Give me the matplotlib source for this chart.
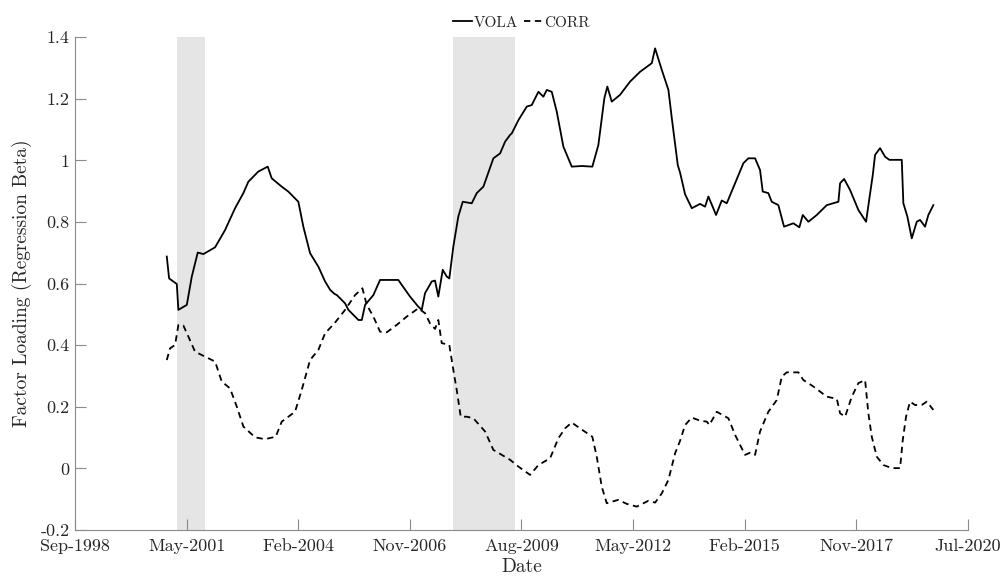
import matplotlib
matplotlib.use("Agg")
import matplotlib.pyplot as plt
import matplotlib.dates as mdates
import numpy as np
import datetime as dt

plt.rcParams['font.family'] = ['cmr10', 'DejaVu Serif']
plt.rcParams['mathtext.fontset'] = 'cm'
plt.rcParams['axes.unicode_minus'] = False

# decimal years, values
vola_t = [2000.909, 2000.966, 2001.154, 2001.193, 2001.399, 2001.521, 2001.667, 2001.804,
          2002.091, 2002.335, 2002.580, 2002.783, 2002.905, 2003.149, 2003.379, 2003.477,
          2003.722, 2003.883, 2004.128, 2004.250, 2004.414, 2004.617, 2004.781, 2004.903,
          2005.008, 2005.067, 2005.270, 2005.350, 2005.595, 2005.678, 2005.759, 2005.962,
          2006.125, 2006.573, 2006.656, 2006.859, 2007.062, 2007.145, 2007.226, 2007.390,
          2007.470, 2007.551, 2007.659, 2007.757, 2007.820, 2007.918, 2008.040, 2008.148,
          2008.368, 2008.490, 2008.652, 2008.896, 2009.060, 2009.182, 2009.304, 2009.346,
          2009.508, 2009.713, 2009.835, 2009.997, 2010.119, 2010.202, 2010.324, 2010.447,
          2010.608, 2010.813, 2011.058, 2011.317, 2011.464, 2011.611, 2011.684, 2011.792,
          2011.994, 2012.239, 2012.484, 2012.770, 2012.850, 2013.014, 2013.176, 2013.259,
          2013.405, 2013.462, 2013.584, 2013.748, 2013.951, 2014.073, 2014.154, 2014.342,
          2014.481, 2014.604, 2014.807, 2015.010, 2015.132, 2015.296, 2015.418, 2015.484,
          2015.621, 2015.704, 2015.866, 2016.005, 2016.233, 2016.379, 2016.462, 2016.599,
          2016.804, 2017.049, 2017.333, 2017.374, 2017.472, 2017.619, 2017.822, 2018.010,
          2018.091, 2018.174, 2018.230, 2018.352, 2018.475, 2018.580, 2018.883, 2018.922,
          2019.020, 2019.128, 2019.250, 2019.331, 2019.453, 2019.534, 2019.656]
vola = [0.688, 0.617, 0.599, 0.515, 0.531, 0.623, 0.701, 0.696,
        0.718, 0.774, 0.845, 0.894, 0.931, 0.964, 0.980, 0.942,
        0.915, 0.899, 0.866, 0.785, 0.699, 0.655, 0.607, 0.580,
        0.567, 0.563, 0.536, 0.515, 0.482, 0.482, 0.531, 0.563,
        0.612, 0.612, 0.596, 0.558, 0.525, 0.515, 0.569, 0.607,
        0.610, 0.558, 0.645, 0.623, 0.617, 0.720, 0.818, 0.866,
        0.861, 0.894, 0.915, 1.007, 1.023, 1.061, 1.083, 1.088,
        1.131, 1.175, 1.180, 1.223, 1.207, 1.229, 1.223, 1.158,
        1.045, 0.980, 0.982, 0.980, 1.050, 1.202, 1.240, 1.191,
        1.213, 1.256, 1.288, 1.316, 1.364, 1.294, 1.229, 1.137,
        0.985, 0.960, 0.890, 0.845, 0.859, 0.850, 0.883, 0.823,
        0.870, 0.861, 0.926, 0.991, 1.007, 1.007, 0.969, 0.899,
        0.894, 0.866, 0.855, 0.785, 0.796, 0.783, 0.823, 0.801,
        0.823, 0.855, 0.866, 0.926, 0.940, 0.904, 0.839, 0.801,
        0.877, 0.953, 1.018, 1.040, 1.012, 1.002, 1.002, 0.861,
        0.818, 0.747, 0.801, 0.807, 0.785, 0.823, 0.855]

corr_t = [2000.909, 2000.990, 2001.112, 2001.193, 2001.315, 2001.438, 2001.601, 2001.846,
          2002.091, 2002.254, 2002.457, 2002.621, 2002.783, 2003.069, 2003.313, 2003.575,
          2003.722, 2004.047, 2004.211, 2004.414, 2004.617, 2004.781, 2005.008, 2005.270,
          2005.514, 2005.693, 2005.800, 2005.962, 2006.125, 2006.289, 2006.534, 2006.778,
          2007.062, 2007.226, 2007.348, 2007.470, 2007.551, 2007.634, 2007.820, 2007.918,
          2008.001, 2008.099, 2008.246, 2008.407, 2008.693, 2008.896, 2009.102, 2009.304,
          2009.508, 2009.794, 2009.997, 2010.283, 2010.486, 2010.649, 2010.813, 2011.016,
          2011.317, 2011.425, 2011.547, 2011.669, 2011.953, 2012.158, 2012.403, 2012.687,
          2012.850, 2013.014, 2013.176, 2013.339, 2013.462, 2013.584, 2013.748, 2013.951,
          2014.115, 2014.178, 2014.359, 2014.643, 2014.807, 2015.051, 2015.173, 2015.296,
          2015.418, 2015.621, 2015.827, 2015.949, 2016.071, 2016.355, 2016.477, 2016.721,
          2017.049, 2017.294, 2017.374, 2017.497, 2017.660, 2017.822, 2017.986, 2018.066,
          2018.149, 2018.272, 2018.434, 2018.639, 2018.842, 2018.908, 2018.988, 2019.086,
          2019.208, 2019.372, 2019.495, 2019.656]
corr = [0.352, 0.390, 0.401, 0.466, 0.464, 0.428, 0.379, 0.363,
        0.347, 0.282, 0.260, 0.201, 0.136, 0.101, 0.095, 0.103,
        0.152, 0.184, 0.255, 0.352, 0.385, 0.439, 0.471, 0.515,
        0.563, 0.585, 0.531, 0.493, 0.444, 0.442, 0.466, 0.493,
        0.520, 0.504, 0.471, 0.453, 0.482, 0.407, 0.401, 0.320,
        0.255, 0.168, 0.168, 0.163, 0.120, 0.060, 0.044, 0.028,
        0.006, -0.021, 0.011, 0.033, 0.098, 0.130, 0.149, 0.130,
        0.103, 0.038, -0.059, -0.113, -0.102, -0.115, -0.124, -0.105,
        -0.111, -0.081, -0.037, 0.049, 0.090, 0.141, 0.165, 0.155,
        0.152, 0.141, 0.184, 0.163, 0.109, 0.044, 0.051, 0.044,
        0.120, 0.184, 0.222, 0.298, 0.312, 0.312, 0.287, 0.266,
        0.233, 0.226, 0.179, 0.168, 0.233, 0.277, 0.287, 0.179,
        0.103, 0.038, 0.011, 0.001, 0.001, 0.093, 0.168, 0.217,
        0.206, 0.206, 0.217, 0.190]

recessions = [("2001-03-01", "2001-11-01"), ("2007-12-01", "2009-06-01")]
x_labels = ["Sep-1998", "May-2001", "Feb-2004", "Nov-2006", "Aug-2009",
            "May-2012", "Feb-2015", "Nov-2017", "Jul-2020"]
y_ticks = [-0.2, 0, 0.2, 0.4, 0.6, 0.8, 1, 1.2, 1.4]
y_labels = ["-0.2", "0", "0.2", "0.4", "0.6", "0.8", "1", "1.2", "1.4"]


def yr2num(y):
    out = []
    for v in y:
        yi = int(v)
        d0 = mdates.date2num(dt.datetime(yi, 1, 1))
        d1 = mdates.date2num(dt.datetime(yi + 1, 1, 1))
        out.append(d0 + (v - yi) * (d1 - d0))
    return np.array(out)


fig = plt.figure(figsize=(10.08, 5.78), dpi=100)
ax = fig.add_axes([0.0744, 0.083, 0.8857, 0.8525])

grey = '#8a8a8a'
for a, b in recessions:
    ax.axvspan(mdates.datestr2num(a), mdates.datestr2num(b), color='#e5e5e5', lw=0, zorder=0)

ax.plot(yr2num(vola_t), vola, color='k', lw=1.3, label='VOLA', zorder=3)
ax.plot(yr2num(corr_t), corr, color='k', lw=1.3, ls=(0, (3.5, 2.5)), label='CORR', zorder=3)

lo = mdates.datestr2num("1998-09-01")
hi = mdates.datestr2num("2020-07-01")
ax.set_xlim(lo, hi)
ax.set_ylim(-0.2, 1.4)
ax.set_xticks(np.linspace(lo, hi, 9))
ax.set_xticklabels(x_labels)
ax.set_yticks(y_ticks)
ax.set_yticklabels(y_labels)

for s in ['top', 'right']:
    ax.spines[s].set_visible(False)
for s in ['left', 'bottom']:
    ax.spines[s].set_color(grey)
    ax.spines[s].set_linewidth(0.8)
ax.tick_params(direction='in', length=8, width=0.8, color=grey,
               labelsize=13, labelcolor='#262626')
ax.tick_params(axis='x', pad=6)
ax.tick_params(axis='y', pad=4)

ax.set_xlabel('Date', fontsize=14, color='#262626', labelpad=3)
ax.set_ylabel('Factor Loading (Regression Beta)', fontsize=14, color='#262626', labelpad=6)

leg = ax.legend(loc='lower center', bbox_to_anchor=(0.5, 1.0), ncol=2, frameon=False,
                fontsize=11, handlelength=1.2, handletextpad=0.1, columnspacing=0.4,
                borderaxespad=0.1)
for t in leg.get_texts():
    t.set_color('#262626')

fig.savefig('out.png', dpi=100)
